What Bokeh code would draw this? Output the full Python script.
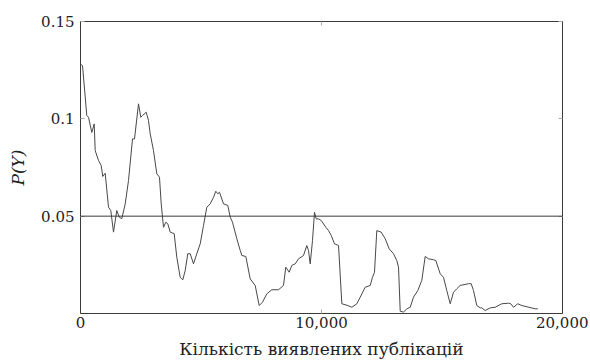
from bokeh.plotting import figure
from bokeh.models import Range1d, FixedTicker, Span, LinearAxis
from bokeh.embed import file_html
from bokeh.resources import INLINE

# Data
pubs = [0, 83, 261, 332, 469, 568, 610, 747, 859, 925, 1025, 1162, 1257, 1369, 1506, 1606,
        1714, 1855, 1992, 2158, 2241, 2407, 2502, 2573, 2726, 2822, 2892, 3029, 3166, 3278,
        3349, 3444, 3539, 3622, 3722, 3888, 3996, 4137, 4245, 4344, 4452, 4552, 4689, 4826,
        4967, 5104, 5241, 5382, 5519, 5614, 5697, 5768, 5934, 6112, 6212, 6307, 6486, 6627,
        6693, 6859, 7041, 7249, 7415, 7552, 7730, 7938, 8216, 8423, 8519, 8660, 8768, 8909,
        9046, 9253, 9390, 9461, 9531, 9627, 9710, 9780, 9876, 9988, 10179, 10291, 10403,
        10540, 10707, 10844, 11093, 11259, 11467, 11606, 11814, 12021, 12116, 12199, 12295,
        12477, 12643, 12809, 12988, 13125, 13196, 13266, 13403, 13540, 13681, 13818, 13996,
        14162, 14303, 14440, 14648, 14743, 14926, 15062, 15199, 15341, 15477, 15614, 15755,
        16099, 16211, 16307, 16444, 16585, 16651, 16792, 16999, 17207, 17481, 17759, 17855,
        17967, 18145, 18311, 18867, 18975]
prob = [0.128, 0.1274, 0.1017, 0.1008, 0.093, 0.0974, 0.0837, 0.0786, 0.076, 0.0704, 0.072,
        0.0546, 0.0529, 0.0418, 0.0529, 0.0495, 0.0487, 0.0563, 0.0683, 0.0897, 0.0897,
        0.1077, 0.1008, 0.1017, 0.1034, 0.0991, 0.0923, 0.0837, 0.0718, 0.070, 0.0563,
        0.0443, 0.0469, 0.0461, 0.0418, 0.041, 0.0289, 0.0186, 0.0173, 0.0221, 0.0307,
        0.0307, 0.0255, 0.0307, 0.0358, 0.0452, 0.0546, 0.0563, 0.0597, 0.0628, 0.0615,
        0.0623, 0.0563, 0.0555, 0.0495, 0.0469, 0.0384, 0.0324, 0.0298, 0.0293, 0.0178,
        0.0144, 0.0041, 0.0058, 0.0101, 0.0122, 0.0122, 0.0144, 0.0238, 0.0212, 0.0247,
        0.0255, 0.0281, 0.0298, 0.0349, 0.0324, 0.0255, 0.0375, 0.052, 0.0486, 0.0486,
        0.0478, 0.0443, 0.0426, 0.0401, 0.0358, 0.0349, 0.005, 0.0041, 0.0032, 0.005,
        0.0084, 0.0135, 0.0144, 0.0186, 0.0212, 0.0426, 0.0418, 0.0384, 0.0332, 0.0307,
        0.0272, 0.0238, 0.0012, 0.0007, 0.0024, 0.0032, 0.0084, 0.0118, 0.017, 0.0293,
        0.0281, 0.0276, 0.0272, 0.0204, 0.0186, 0.0118, 0.005, 0.0109, 0.0127, 0.0144,
        0.0153, 0.0153, 0.0118, 0.0041, 0.0029, 0.0029, 0.0015, 0.0029, 0.0032, 0.005,
        0.0053, 0.005, 0.0032, 0.005, 0.0041, 0.0024, 0.0024, 0.0007]
threshold = 0.05

x_ticks = [0, 10000, 20000]
x_tick_labels = ["0", "10,000", "20,000"]
y_ticks = [0.05, 0.1, 0.15]
y_tick_labels = ["0.05", "0.1", "0.15"]

FONT = "'DejaVu Serif'"
DARK = "#3a3a3a"

p = figure(width=588, height=364, output_backend="svg", toolbar_location=None,
           x_range=Range1d(0, 20000), y_range=Range1d(0, 0.15),
           min_border_left=80, min_border_right=26, min_border_top=21, min_border_bottom=51)
p.grid.visible = False
p.outline_line_color = DARK
p.outline_line_width = 1
p.background_fill_color = "white"
p.border_fill_color = "white"

p.line(pubs, prob, line_color="#484848", line_width=1)
p.add_layout(Span(location=threshold, dimension="width", line_color=DARK, line_width=1))

def style(ax, labels, ticks, show_labels=True):
    ax.ticker = FixedTicker(ticks=ticks)
    ax.major_label_overrides = {t: l for t, l in zip(ticks, labels)}
    ax.minor_tick_line_color = None
    ax.major_tick_in = 4
    ax.major_tick_out = 0
    ax.major_tick_line_color = "#aaaaaa"
    ax.axis_line_color = DARK
    ax.major_label_text_font = FONT
    ax.major_label_text_font_size = "15px"
    ax.major_label_text_color = "#222222"
    ax.axis_label_text_font = FONT
    ax.axis_label_text_font_size = "17px"
    ax.axis_label_text_color = "#222222"
    if not show_labels:
        ax.major_label_text_color = None

xa = p.xaxis[0]
style(xa, x_tick_labels, x_ticks)
xa.axis_label = "Кількість виявлених публікацій"
xa.axis_label_text_font_style = "normal"
xa.major_label_standoff = 3
xa.axis_label_standoff = 8

ya = p.yaxis[0]
style(ya, y_tick_labels, y_ticks)
ya.axis_label = "P(Y)"
ya.axis_label_text_font_style = "italic"
ya.major_label_standoff = 6
ya.axis_label_standoff = 10

top = LinearAxis()
style(top, x_tick_labels, x_ticks, show_labels=False)
p.add_layout(top, "above")
right = LinearAxis()
style(right, y_tick_labels, y_ticks, show_labels=False)
p.add_layout(right, "right")

open("out.html", "w").write(file_html(p, INLINE))
